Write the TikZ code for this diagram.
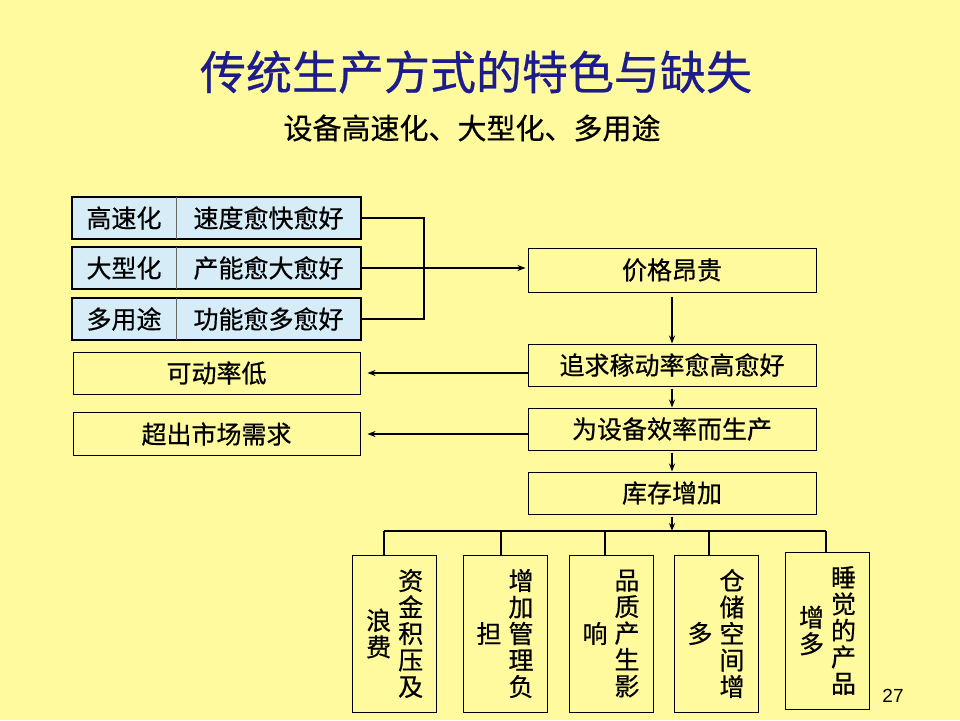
\documentclass[tikz,border=0pt]{standalone}
\usepackage{fontspec}
\setmainfont{Noto Sans CJK SC}[FakeBold=0.6]
\newfontfamily\numfont{Liberation Sans}
\usetikzlibrary{arrows.meta}
\definecolor{bgyellow}{RGB}{255,250,158}
\definecolor{lblue}{RGB}{214,236,247}
\definecolor{titleblue}{RGB}{28,28,140}
\newcommand{\vcol}[2]{\parbox[c]{25pt}{\centering #1}\hspace{7pt}\parbox[c]{25pt}{\centering #2}}
\tikzset{
  txt/.style={font=\fontsize{25pt}{27pt}\selectfont},
  dblbox/.style={draw, line width=2.5pt, fill=lblue, minimum width=289, minimum height=42, inner sep=0pt},
  cell/.style={txt, minimum height=42, inner sep=0pt},
  plainbox/.style={txt, draw, line width=1pt, fill=bgyellow, minimum height=42, inner sep=0pt},
  vbox/.style={draw, line width=1pt, fill=bgyellow, minimum width=84, minimum height=157, inner sep=0pt,
    font=\fontsize{25pt}{26.5pt}\selectfont},
  conn/.style={line width=1.6pt},
  arr/.style={conn, -{Stealth[length=8pt,width=6pt]}}
}
\begin{document}
\begin{tikzpicture}[x=1pt,y=-1pt]
\fill[bgyellow] (0,0) rectangle (960,720);
\useasboundingbox (0,0) rectangle (960,720);

% titles
\node[text=titleblue, font=\fontsize{46pt}{50pt}\selectfont] (title) at (476,72) {传统生产方式的特色与缺失};
\node[font=\fontsize{29pt}{32pt}\selectfont] (sub) at (472,128) {设备高速化、大型化、多用途};

% left double boxes
\node[dblbox] (hs) at (216.5,218) {};
\node[cell, minimum width=104] (hsL) at (124,218) {高速化};
\node[cell] (hsR) at (268.5,218) {速度愈快愈好};
\draw[line width=0.7pt, black!60] (hsL.north east) -- (hsL.south east);

\node[dblbox] (dx) at (216.5,268) {};
\node[cell, minimum width=104] (dxL) at (124,268) {大型化};
\node[cell] (dxR) at (268.5,268) {产能愈大愈好};
\draw[line width=0.7pt, black!60] (dxL.north east) -- (dxL.south east);

\node[dblbox] (dy) at (216.5,319) {};
\node[cell, minimum width=104] (dyL) at (124,319) {多用途};
\node[cell] (dyR) at (268.5,319) {功能愈多愈好};
\draw[line width=0.7pt, black!60] (dyL.north east) -- (dyL.south east);

% left plain boxes
\node[plainbox, minimum width=287] (kd) at (216.5,373) {可动率低};
\node[plainbox, minimum width=287, minimum height=43] (cc) at (216.5,434) {超出市场需求};

% right column boxes
\node[plainbox, minimum width=288, minimum height=44] (price) at (672,270) {价格昂贵};
\node[plainbox, minimum width=288] (zhui) at (672,365) {追求稼动率愈高愈好};
\node[plainbox, minimum width=288] (wei) at (672,429) {为设备效率而生产};
\node[plainbox, minimum width=288] (stock) at (672,493) {库存增加};

% bottom boxes
\node[vbox] (b1) at (394.7,633.5) {\vcol{浪\\费}{资\\金\\积\\压\\及}};
\node[vbox] (b2) at (505,633.5) {\vcol{担}{增\\加\\管\\理\\负}};
\node[vbox] (b3) at (611,633.5) {\vcol{响}{品\\质\\产\\生\\影}};
\node[vbox] (b4) at (716,633.5) {\vcol{多}{仓\\储\\空\\间\\增}};
\node[vbox] (b5) at (827.5,630.5) {\vcol{增\\多}{睡\\觉\\的\\产\\品}};

% page number
\node[font=\numfont\fontsize{19pt}{22pt}\selectfont] (pg) at (893,696) {27};

% connectors from left boxes
\coordinate (j) at (424,268);
\draw[conn] (hs.east) -| (j);
\draw[conn] (dy.east) -| (j);
\draw[conn] (dx.east) -- (j);
\draw[arr, shorten >=2pt] (j) -- (j -| price.west);

% right column flow
\draw[arr, shorten <=4pt] (price.south) -- (zhui.north);
\draw[arr, shorten <=2pt] (zhui.south) -- (wei.north);
\draw[arr, shorten <=2pt] (wei.south) -- (stock.north);

% arrows to the left
\draw[arr, shorten >=7pt] (zhui.west |- kd.east) -- (kd.east);
\draw[arr, shorten >=7pt] (wei.west |- cc.east) -- (cc.east);

% distribution bar
\coordinate (d1) at (384,531);
\coordinate (d2) at (501,531);
\coordinate (d3) at (605,531);
\coordinate (d4) at (709,531);
\coordinate (d5) at (826,531);
\draw[arr, shorten <=2pt] (stock.south) -- (stock.south |- d1);
\draw[conn] (d1) -- (d5);
\draw[conn] (d1) -- (d1 |- b1.north);
\draw[conn] (d2) -- (d2 |- b2.north);
\draw[conn] (d3) -- (d3 |- b3.north);
\draw[conn] (d4) -- (d4 |- b4.north);
\draw[conn] (d5) -- (d5 |- b5.north);
\end{tikzpicture}
\end{document}
